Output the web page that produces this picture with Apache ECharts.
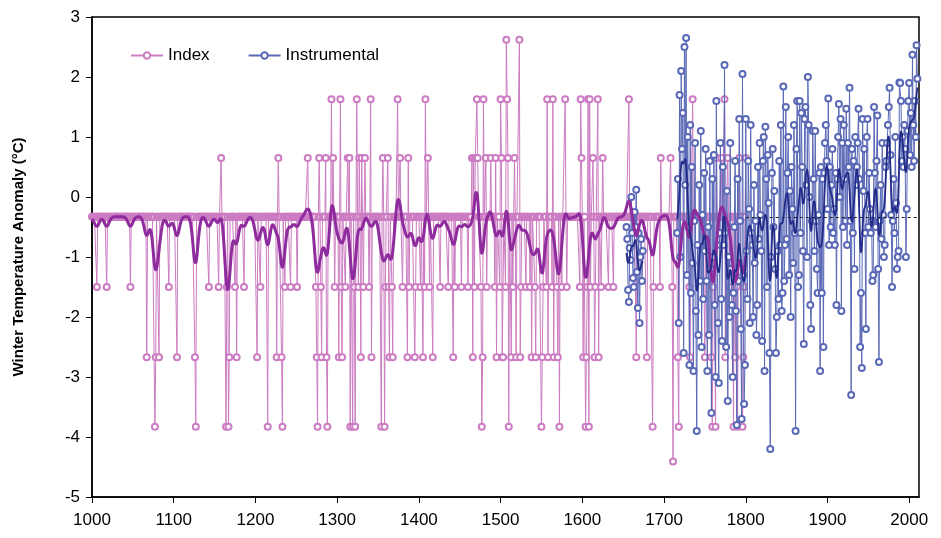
<!DOCTYPE html>
<html>
<head>
<meta charset="utf-8">
<script src="https://cdn.jsdelivr.net/npm/echarts@6/dist/echarts.min.js"></script>
<style>
  html, body { margin: 0; padding: 0; background: #fff; }
  #chart { width: 941px; height: 538px; }
</style>
</head>
<body>
<div id="chart"></div>
<script>
// index levels
const BASE = -0.33;
const U1 = 0.65, U2 = 1.63, U3 = 2.62;
const D1 = -1.5, D2 = -2.67, D3 = -3.83, D4 = -4.41;

const indexStart = 1000;
const indexEnd = 1800;

// years where the index leaves the baseline [year, value]
const indexEvents = [
  [1006,D1],[1018,D1],[1047,D1],[1067,D2],[1077,D3],[1078,D2],[1082,D2],[1094,D1],[1104,D2],[1126,D2],[1127,D3],
  [1143,D1],[1155,D1],[1158,U1],[1164,D3],[1165,D1],[1167,D3],[1168,D2],[1175,D1],[1177,D2],[1186,D1],
  [1202,D2],[1206,D1],[1215,D3],[1226,D2],[1228,U1],[1232,D2],[1233,D3],[1236,D1],[1243,D1],[1251,D1],[1264,U1],
  [1274,D1],[1275,D2],[1276,D3],[1278,U1],[1280,D1],[1281,D2],[1286,U1],[1287,D2],[1288,D3],[1293,U2],[1295,U1],[1297,D1],
  [1302,D2],[1304,U2],[1305,D1],[1306,D2],[1310,D1],[1313,U1],[1315,U1],[1316,D3],[1319,D3],[1321,D1],[1322,D3],[1324,U2],
  [1326,D1],[1327,U1],[1329,D2],[1330,U1],[1332,D1],[1334,U1],[1339,D1],[1341,U2],[1342,D2],[1354,D3],[1356,U1],[1358,D3],
  [1359,D1],[1362,U1],[1363,D1],[1364,D2],[1367,D1],[1368,D2],[1374,U2],[1377,U1],[1380,D1],[1386,D2],[1387,U1],[1388,D1],
  [1395,D2],[1396,D1],
  [1402,D1],[1405,D2],[1407,D1],[1408,U2],[1411,U1],[1413,D1],[1417,D2],[1426,D1],[1436,D1],[1442,D2],[1444,D1],[1452,D1],
  [1460,D1],[1465,U1],[1466,D2],[1467,U1],[1468,D1],[1469,U1],[1470,U1],[1471,U2],[1472,U1],[1476,D1],[1477,D3],[1478,D2],
  [1479,U2],[1482,U1],[1483,D1],[1488,U1],[1493,D1],[1494,U1],[1495,D2],[1499,D1],
  [1500,U2],[1501,U1],[1502,D2],[1503,D2],[1506,D1],[1507,U3],[1508,U2],[1509,U1],[1510,D3],[1513,D2],[1515,D1],[1517,U1],
  [1519,D2],[1523,U3],[1524,D2],[1525,D1],[1531,D1],[1536,D1],[1538,D2],[1542,D1],[1543,D2],[1550,D3],[1551,D2],[1552,D1],
  [1556,D1],[1557,U2],[1558,D2],[1563,D1],[1564,U2],[1565,D2],[1569,D1],[1570,D2],[1572,D3],[1575,D1],[1579,U2],[1581,D1],
  [1597,D1],[1598,U2],[1599,U1],
  [1601,D2],[1604,D3],[1605,D2],[1606,D1],[1607,U2],[1608,D3],[1609,U2],[1610,D1],[1613,U1],[1615,D2],[1616,D1],[1619,U2],
  [1620,D2],[1623,D1],[1625,U1],[1632,D1],[1638,D1],[1657,U2],[1666,D2],[1679,D2],[1686,D3],[1687,D1],[1695,D1],[1696,U1],
  [1708,U1],[1710,D1],[1711,D4],[1717,D2],[1718,D3],[1731,D1],[1732,D2],[1735,U2],[1750,D2],[1758,D2],[1759,D3],[1760,D1],
  [1763,D3],[1764,U1],[1770,U1],[1774,U2],[1775,D2],[1778,U1],[1780,D1],[1785,D3],[1787,D2],[1789,D1],[1790,D3],[1792,U1],
  [1796,D3],[1797,D2],[1798,D1],[1800,U1]
];

// instrumental record, early fragment
const instEarlyStart = 1654;
const instEarly = [-0.5,-0.7,-1.55,-1.75,-0.85,-1.05,0.0,-0.6,-1.35,-1.5,-0.25,-0.5,0.12,-1.25,-1.85,-0.6,-2.1,-1.0,-0.7,-1.4,-0.9];

// instrumental record, continuous part
const instLateStart = 1716;
const instLate = [
  -0.6, 0.3, -2.1, 1.7,
  -1.0, 2.1, 0.8, 1.4, -2.6, 2.5, 0.2, 2.65, -1.3, 1.0,
  -0.5, -2.8, 1.2, -1.6, 0.5, -1.1, -2.9, -0.4, 0.9, -1.9,
  -3.9, -0.8, -2.3, 0.2, -1.4, 1.1, -2.5, -0.3, -1.7, 0.4,
  -0.9, 0.8, -1.4, -2.9, -0.5, -2.3, 0.6, -1.2, -3.6, 0.3,
  -1.0, 0.7, -1.8, -3.0, 1.6, -0.8, -2.1, -3.1, -0.6, 0.9,
  -1.7, -2.4, 0.5, -0.8, 2.2, -0.6, -2.5, 0.1, -3.4, -1.0,
  -2.0, 0.9, -1.2, -1.8, -3.0, -1.6, -0.5, 0.6, -1.9, -3.8,
  0.3, -1.4, 1.3, -0.4, -2.2, -3.7, 2.05, -1.3, -3.45, -2.8,
  1.3, -0.9, -1.7, 0.6, -0.2, -2.1, 1.2, -0.6, -0.8, -2.0,
  0.2, -1.1, -0.4, -2.3, -1.8, 0.5, -0.7, 0.9, -0.3, -0.9,
  -2.4, 0.6, 1.0, -2.9, 1.17, 0.3, -1.5, 0.7, -0.1, -2.6,
  -4.2, -1.0, 0.4, 0.8, -0.5, 0.1, -1.2, -2.6, -2.0, -0.9,
  -1.7, 0.6, -0.8, 1.2, -1.9, -1.6, 1.84, -1.4, -0.8, 1.5,
  -0.7, 0.4, 1.0, -1.3, 0.1, -2.0, 0.5, -0.2, -1.1, 1.2,
  -0.6, -3.9, 0.8, 1.6, -1.5, -1.3, 1.6, -0.6, 1.4, 0.5,
  -0.9, -2.45, 1.3, 1.5, 0.2, -1.0, 2.0, 1.2, 0.0, -1.8,
  -2.2, -0.4, 1.1, 0.3, -0.9, 1.1, -0.4, -1.2, -1.6, -0.3,
  0.4, -2.9, 0.5, -1.6, 0.3, -2.5, 0.4, 0.9, 1.2, 0.6,
  -0.2, 1.64, -0.8, 0.5, -0.5, 0.2, 0.8, -0.6, -0.2, -0.8,
  0.4, -1.8, 0.3, 1.0, 1.55, 0.0, 1.3, -1.9, 0.9, -0.5,
  1.2, 0.3, -0.4, 1.47, -0.8, 0.9, 0.5, 1.82, -0.4, -3.3,
  0.8, -0.6, 0.6, -1.2, 1.0, 0.2, 0.5, 0.9, 1.47, 0.3,
  -2.5, -1.6, -2.85, 1.3, 0.1, 0.8, -0.6, -2.2, 1.0, 1.3,
  -0.5, 0.4, -0.2, -0.6, -0.4, -1.4, -1.3, 1.5, 0.4, -0.5,
  0.6, 1.36, -1.2, -2.75, -0.4, 0.2, -0.7, 0.9, -0.3, -1.0,
  -0.8, 0.5, 0.6, 0.9, 1.2, 1.5, 1.82, 0.7, -0.3, -1.5,
  -0.4, 0.3, -0.6, 1.0, -0.1, -1.2, -1.0, -0.9, 1.91, 1.9,
  1.6, 0.6, 1.0, 0.5, 1.2, 0.8, -1.0, -0.2, 1.1, 1.6,
  1.9, 0.7, 1.4, 0.5, 2.37, 1.2, 0.6, 1.6, 1.0, 2.53, 1.97
];

const refLineStart = 1800;
const xMax = 2012;
const xTicks = [1000, 1100, 1200, 1300, 1400, 1500, 1600, 1700, 1800, 1900, 2000];

// build the series
const eventMap = {};
indexEvents.forEach(e => { eventMap[e[0]] = e[1]; });
const indexData = [];
for (let y = indexStart; y <= indexEnd; y++) {
  indexData.push([y, eventMap[y] !== undefined ? eventMap[y] : BASE]);
}
const toPairs = (start, arr) => arr.map((v, i) => [start + i, v]);
const earlyData = toPairs(instEarlyStart, instEarly);
const lateData = toPairs(instLateStart, instLate);
const gapYear = instEarlyStart + instEarly.length;
const instData = earlyData.concat([[gapYear, null]], lateData);

// gaussian-weighted running mean for the dark curves
function smoothMean(pairs, sigma) {
  const half = Math.ceil(sigma * 2.5);
  return pairs.map((p, i) => {
    let s = 0, w = 0;
    for (let k = i - half; k <= i + half; k++) {
      if (k < 0 || k >= pairs.length) continue;
      const wk = Math.exp(-((k - i) * (k - i)) / (2 * sigma * sigma));
      s += pairs[k][1] * wk; w += wk;
    }
    return [p[0], s / w];
  });
}
const indexSmooth = smoothMean(indexData, 3);
const instSmooth = smoothMean(earlyData, 2).concat([[gapYear, null]], smoothMean(lateData, 2));

const chart = echarts.init(document.getElementById('chart'), null, { renderer: 'canvas' });
const font = 'Liberation Sans, Arial, sans-serif';
const pink = '#cc7cc2';
const blue = '#5a69b6';

chart.setOption({
  animation: false,
  backgroundColor: '#fff',
  grid: { left: 92, right: 22, top: 17, bottom: 41, show: true, borderColor: '#000', borderWidth: 1.5, backgroundColor: 'transparent' },
  legend: {
    left: 125, top: 42, itemGap: 38, itemWidth: 32, itemHeight: 8,
    data: ['Index', 'Instrumental'],
    textStyle: { fontFamily: font, fontSize: 17, color: '#000' }
  },
  xAxis: {
    type: 'value', min: 1000, max: xMax, interval: 100,
    splitLine: { show: false },
    axisLine: { onZero: false, lineStyle: { color: '#000', width: 1.5 } },
    axisTick: { length: 6, lineStyle: { color: '#000' }, customValues: xTicks },
    axisLabel: {
      customValues: xTicks, margin: 15, fontFamily: font, fontSize: 17, color: '#000',
      formatter: v => String(v)
    }
  },
  yAxis: {
    type: 'value', min: -5, max: 3, interval: 1,
    name: 'Winter Temperature Anomaly (°C)', nameLocation: 'middle', nameGap: 66,
    nameTextStyle: { fontFamily: font, fontSize: 15, fontWeight: 'bold', color: '#000' },
    splitLine: { show: false },
    axisLine: { onZero: false, lineStyle: { color: '#000', width: 1.5 } },
    axisTick: { length: 6, lineStyle: { color: '#000' } },
    axisLabel: { margin: 12, fontFamily: font, fontSize: 17, color: '#000' }
  },
  series: [
    {
      name: 'Index', type: 'line', data: indexData,
      symbol: 'emptyCircle', symbolSize: 6, showAllSymbol: true,
      lineStyle: { color: pink, width: 1 },
      itemStyle: { color: pink, borderColor: pink, borderWidth: 1.2 },
      z: 2
    },
    {
      name: 'Instrumental', type: 'line', data: instData, connectNulls: false,
      symbol: 'emptyCircle', symbolSize: 6, showAllSymbol: true,
      lineStyle: { color: blue, width: 1 },
      itemStyle: { color: blue, borderColor: blue, borderWidth: 1 },
      markLine: {
        silent: true, symbol: 'none', label: { show: false },
        lineStyle: { color: '#222', type: [3, 3], width: 1.2 },
        data: [[{ coord: [refLineStart, BASE] }, { coord: [xMax, BASE] }]]
      },
      z: 3
    },
    {
      name: 'Index mean', type: 'line', data: indexSmooth, symbol: 'none', smooth: true,
      lineStyle: { color: '#8e2c9e', width: 3 }, z: 4
    },
    {
      name: 'Instrumental mean', type: 'line', data: instSmooth, symbol: 'none', smooth: true,
      connectNulls: false,
      lineStyle: { color: '#222c88', width: 1.8 }, z: 5
    }
  ]
});
</script>
</body>
</html>
